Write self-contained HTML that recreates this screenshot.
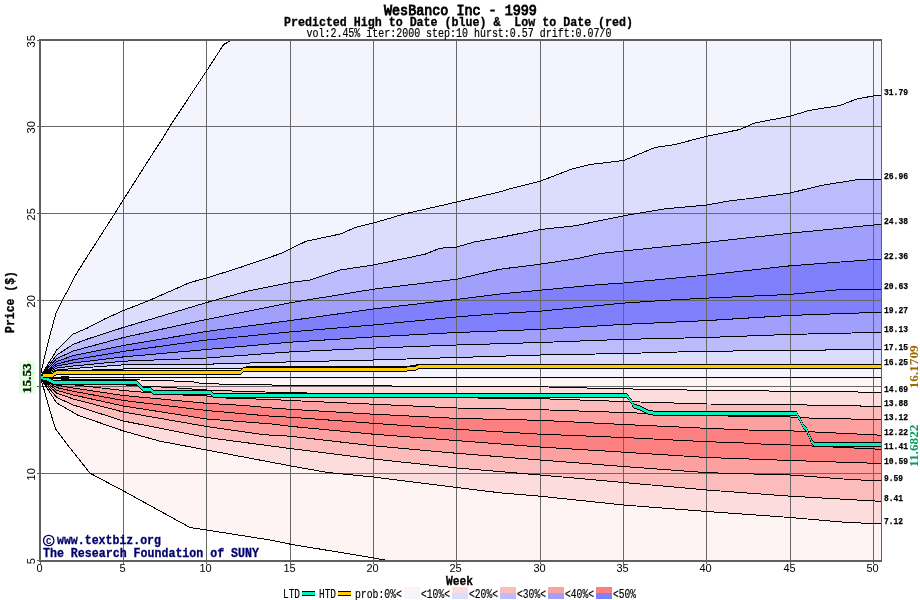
<!DOCTYPE html>
<html><head><meta charset="utf-8"><title>WesBanco Inc - 1999</title>
<style>html,body{margin:0;padding:0;background:#fff}svg{display:block;will-change:transform}</style>
</head><body>
<svg width="920" height="600" viewBox="0 0 920 600">
<rect width="920" height="600" fill="#fff"/>
<defs><clipPath id="cp"><rect x="40" y="40" width="841" height="521"/></clipPath></defs>
<g clip-path="url(#cp)" shape-rendering="crispEdges">
<polygon points="40.0,377.3 45.0,355.0 50.0,335.0 56.2,312.5 63.8,297.5 68.0,290.0 75.0,276.0 85.0,260.0 115.0,213.2 123.2,200.0 155.0,150.0 161.8,140.0 170.0,126.0 206.5,71.0 223.7,44.5 232.0,40.0 881.5,40.0 881.5,377.3 40.0,377.3" fill="#f4f4ff"/>
<polygon points="40.0,377.3 56.7,350.0 73.3,334.0 87.5,328.0 105.0,318.8 123.4,310.5 147.5,301.2 190.0,282.5 206.7,278.0 240.0,267.5 280.0,253.8 290.1,249.0 306.2,241.2 341.2,233.8 355.0,227.5 373.5,223.0 405.0,213.8 456.8,202.0 500.0,191.8 510.0,188.8 540.2,181.2 572.5,168.8 590.0,164.5 623.6,160.5 655.0,147.5 675.0,144.5 707.0,136.2 740.0,129.5 753.8,123.2 790.3,116.2 808.8,110.5 840.0,105.5 856.2,99.2 873.7,95.8 881.5,95.3 881.5,377.3 40.0,377.3" fill="#dcdcfc"/>
<polygon points="40.0,377.3 56.7,355.0 73.3,344.4 87.5,339.0 123.4,327.4 155.0,318.0 206.7,302.5 247.5,291.2 290.1,282.5 310.0,280.0 340.0,270.0 373.5,265.0 425.0,254.2 440.0,248.2 456.8,247.0 475.0,241.8 500.0,237.5 540.2,229.5 575.0,225.8 623.6,215.8 665.0,208.8 707.0,205.0 730.0,200.8 752.5,198.2 790.3,193.0 821.0,185.5 855.0,180.0 873.7,179.6 881.5,179.2 881.5,377.3 40.0,377.3" fill="#bcbcfc"/>
<polygon points="40.0,377.3 56.7,358.5 73.3,351.0 123.4,337.5 206.7,319.4 290.1,302.8 373.5,289.2 456.8,279.2 500.0,269.2 540.2,264.2 577.5,258.5 600.0,253.5 623.6,251.0 707.0,242.3 790.3,233.2 873.7,225.0 881.5,224.0 881.5,377.3 40.0,377.3" fill="#a0a0fc"/>
<polygon points="40.0,377.3 56.7,361.5 73.3,355.6 123.4,345.5 206.7,331.4 290.1,320.6 373.5,309.0 456.8,299.4 500.0,294.0 540.2,290.2 600.0,284.5 623.6,283.0 707.0,275.0 790.3,265.8 873.7,259.5 881.5,259.1 881.5,377.3 40.0,377.3" fill="#8080fc"/>
<polygon points="40.0,377.3 56.7,364.0 73.3,359.8 123.4,351.4 206.7,340.0 290.1,331.9 373.5,325.0 456.8,316.9 500.0,313.5 540.2,311.2 623.6,303.1 665.0,300.3 707.0,298.1 790.3,294.4 840.0,289.6 873.7,289.4 881.5,289.2 881.5,377.3 40.0,377.3" fill="#8080fc"/>
<polygon points="40.0,377.3 56.7,366.0 73.3,363.0 123.4,356.9 206.7,349.5 290.1,342.2 373.5,336.9 456.8,332.5 540.2,329.4 623.6,324.4 707.0,320.6 790.3,315.4 873.7,312.5 881.5,312.3 881.5,377.3 40.0,377.3" fill="#a0a0fc"/>
<polygon points="40.0,377.3 56.7,368.0 73.3,366.0 123.4,361.2 206.7,358.0 290.1,351.9 373.5,348.1 456.8,345.0 540.2,342.5 623.6,339.4 707.0,337.5 790.3,334.4 873.7,332.5 881.5,332.3 881.5,377.3 40.0,377.3" fill="#bcbcfc"/>
<polygon points="40.0,377.3 56.7,370.0 73.3,368.5 123.4,364.8 206.7,364.2 290.1,361.9 373.5,360.0 456.8,357.5 540.2,355.0 623.6,353.5 707.0,351.2 790.3,350.6 873.7,349.2 881.5,349.0 881.5,377.3 40.0,377.3" fill="#dcdcfc"/>
<polygon points="40.0,377.3 56.7,372.5 73.3,370.6 123.4,369.0 206.7,368.8 243.0,368.5 246.0,367.0 373.5,366.8 405.0,366.8 419.0,364.5 881.5,364.5 881.5,377.3 40.0,377.3" fill="#f4f4ff"/>
<polygon points="40.0,377.3 43.8,388.8 51.2,415.0 55.6,428.8 67.5,444.8 90.0,473.2 123.2,490.8 190.0,527.5 206.8,530.0 270.0,540.0 290.5,544.2 373.8,558.0 387.5,560.5 881.5,560.5 881.5,377.3 40.0,377.3" fill="#fff4f4"/>
<polygon points="40.0,377.3 56.7,403.0 73.3,412.5 77.5,415.0 123.4,431.0 160.0,441.2 206.7,450.0 290.1,465.8 327.5,472.5 373.5,477.0 456.8,487.5 500.0,492.8 540.2,496.2 623.6,505.0 707.0,511.5 790.3,517.5 847.5,522.5 881.5,523.8 881.5,377.3 40.0,377.3" fill="#fcdcdc"/>
<polygon points="40.0,377.3 56.7,397.5 73.3,405.0 123.4,421.0 206.7,437.5 290.1,448.5 373.5,459.0 456.8,468.0 540.2,475.0 623.6,482.5 707.0,490.0 790.3,496.2 881.5,501.4 881.5,377.3 40.0,377.3" fill="#fcbcbc"/>
<polygon points="40.0,377.3 56.7,393.2 73.3,399.0 123.4,412.0 206.7,426.5 265.0,434.8 290.1,436.2 373.5,445.8 456.8,453.3 540.2,460.0 623.6,466.5 707.0,472.7 790.3,475.0 850.0,479.5 881.5,480.9 881.5,377.3 40.0,377.3" fill="#fca0a0"/>
<polygon points="40.0,377.3 56.7,390.3 73.3,395.0 123.4,406.0 206.7,419.0 272.0,424.0 290.1,426.3 373.5,434.2 456.8,440.6 540.2,447.0 623.6,452.2 707.0,457.5 790.3,460.5 881.5,463.5 881.5,377.3 40.0,377.3" fill="#fc8080"/>
<polygon points="40.0,377.3 56.7,387.6 73.3,391.3 123.4,400.5 206.7,410.5 272.0,416.3 290.1,417.2 373.5,423.3 456.8,429.3 540.2,434.2 623.6,437.5 707.0,441.7 740.0,442.8 765.0,444.2 790.3,445.0 881.5,449.3 881.5,377.3 40.0,377.3" fill="#fc8080"/>
<polygon points="40.0,377.3 56.7,385.2 73.3,388.0 123.4,395.5 206.7,403.3 244.0,405.5 272.0,408.0 290.1,409.3 373.5,414.2 456.8,418.4 540.2,420.3 623.6,424.5 707.0,428.3 748.0,430.0 790.3,430.8 815.0,432.0 881.5,435.2 881.5,377.3 40.0,377.3" fill="#fca0a0"/>
<polygon points="40.0,377.3 56.7,382.9 73.3,384.8 123.4,390.5 170.0,394.5 206.7,396.0 228.0,398.2 272.0,399.5 290.1,400.5 373.5,404.2 456.8,408.0 540.2,409.7 623.6,412.5 707.0,415.7 748.0,416.3 790.3,417.0 815.0,418.3 881.5,419.6 881.5,377.3 40.0,377.3" fill="#fcbcbc"/>
<polygon points="40.0,377.3 56.7,381.2 73.3,382.5 123.4,384.8 138.0,386.0 165.0,387.2 206.7,390.0 213.0,390.5 232.0,391.0 265.0,392.0 290.1,392.5 373.5,395.0 456.8,396.5 481.7,398.3 540.2,398.7 565.0,399.5 623.6,401.5 707.0,404.0 765.0,404.2 790.3,404.7 881.5,406.4 881.5,377.3 40.0,377.3" fill="#fcdcdc"/>
<polygon points="40.0,377.3 56.7,378.9 73.3,379.3 123.4,379.5 180.0,381.2 194.0,382.0 202.0,383.5 206.7,383.8 265.0,384.8 290.1,385.5 373.5,385.8 456.8,386.7 540.2,386.9 548.0,387.0 598.0,388.3 623.6,388.7 653.0,389.7 707.0,390.2 731.7,390.5 790.3,391.3 831.7,391.7 881.5,392.3 881.5,377.3 40.0,377.3" fill="#fff4f4"/>
<rect x="123" y="40" width="1" height="521" fill="#686868"/>
<rect x="206" y="40" width="1" height="521" fill="#686868"/>
<rect x="290" y="40" width="1" height="521" fill="#686868"/>
<rect x="373" y="40" width="1" height="521" fill="#686868"/>
<rect x="456" y="40" width="1" height="521" fill="#686868"/>
<rect x="540" y="40" width="1" height="521" fill="#686868"/>
<rect x="623" y="40" width="1" height="521" fill="#686868"/>
<rect x="706" y="40" width="1" height="521" fill="#686868"/>
<rect x="790" y="40" width="1" height="521" fill="#686868"/>
<rect x="873" y="40" width="1" height="521" fill="#686868"/>
<rect x="40" y="126" width="841" height="1" fill="#686868"/>
<rect x="40" y="213" width="841" height="1" fill="#686868"/>
<rect x="40" y="300" width="841" height="1" fill="#686868"/>
<rect x="40" y="386" width="841" height="1" fill="#686868"/>
<rect x="40" y="473" width="841" height="1" fill="#686868"/>
<polyline points="40.0,377.3 45.0,355.0 50.0,335.0 56.2,312.5 63.8,297.5 68.0,290.0 75.0,276.0 85.0,260.0 115.0,213.2 123.2,200.0 155.0,150.0 161.8,140.0 170.0,126.0 206.5,71.0 223.7,44.5 232.0,40.0 881.5,40.0" fill="none" stroke="#000" stroke-width="1"/>
<polyline points="40.0,377.3 56.7,350.0 73.3,334.0 87.5,328.0 105.0,318.8 123.4,310.5 147.5,301.2 190.0,282.5 206.7,278.0 240.0,267.5 280.0,253.8 290.1,249.0 306.2,241.2 341.2,233.8 355.0,227.5 373.5,223.0 405.0,213.8 456.8,202.0 500.0,191.8 510.0,188.8 540.2,181.2 572.5,168.8 590.0,164.5 623.6,160.5 655.0,147.5 675.0,144.5 707.0,136.2 740.0,129.5 753.8,123.2 790.3,116.2 808.8,110.5 840.0,105.5 856.2,99.2 873.7,95.8 881.5,95.3" fill="none" stroke="#000" stroke-width="1"/>
<polyline points="40.0,377.3 56.7,355.0 73.3,344.4 87.5,339.0 123.4,327.4 155.0,318.0 206.7,302.5 247.5,291.2 290.1,282.5 310.0,280.0 340.0,270.0 373.5,265.0 425.0,254.2 440.0,248.2 456.8,247.0 475.0,241.8 500.0,237.5 540.2,229.5 575.0,225.8 623.6,215.8 665.0,208.8 707.0,205.0 730.0,200.8 752.5,198.2 790.3,193.0 821.0,185.5 855.0,180.0 873.7,179.6 881.5,179.2" fill="none" stroke="#000" stroke-width="1"/>
<polyline points="40.0,377.3 56.7,358.5 73.3,351.0 123.4,337.5 206.7,319.4 290.1,302.8 373.5,289.2 456.8,279.2 500.0,269.2 540.2,264.2 577.5,258.5 600.0,253.5 623.6,251.0 707.0,242.3 790.3,233.2 873.7,225.0 881.5,224.0" fill="none" stroke="#000" stroke-width="1"/>
<polyline points="40.0,377.3 56.7,361.5 73.3,355.6 123.4,345.5 206.7,331.4 290.1,320.6 373.5,309.0 456.8,299.4 500.0,294.0 540.2,290.2 600.0,284.5 623.6,283.0 707.0,275.0 790.3,265.8 873.7,259.5 881.5,259.1" fill="none" stroke="#000" stroke-width="1"/>
<polyline points="40.0,377.3 56.7,364.0 73.3,359.8 123.4,351.4 206.7,340.0 290.1,331.9 373.5,325.0 456.8,316.9 500.0,313.5 540.2,311.2 623.6,303.1 665.0,300.3 707.0,298.1 790.3,294.4 840.0,289.6 873.7,289.4 881.5,289.2" fill="none" stroke="#000" stroke-width="1"/>
<polyline points="40.0,377.3 56.7,366.0 73.3,363.0 123.4,356.9 206.7,349.5 290.1,342.2 373.5,336.9 456.8,332.5 540.2,329.4 623.6,324.4 707.0,320.6 790.3,315.4 873.7,312.5 881.5,312.3" fill="none" stroke="#000" stroke-width="1"/>
<polyline points="40.0,377.3 56.7,368.0 73.3,366.0 123.4,361.2 206.7,358.0 290.1,351.9 373.5,348.1 456.8,345.0 540.2,342.5 623.6,339.4 707.0,337.5 790.3,334.4 873.7,332.5 881.5,332.3" fill="none" stroke="#000" stroke-width="1"/>
<polyline points="40.0,377.3 56.7,370.0 73.3,368.5 123.4,364.8 206.7,364.2 290.1,361.9 373.5,360.0 456.8,357.5 540.2,355.0 623.6,353.5 707.0,351.2 790.3,350.6 873.7,349.2 881.5,349.0" fill="none" stroke="#000" stroke-width="1"/>
<polyline points="40.0,377.3 56.7,372.5 73.3,370.6 123.4,369.0 206.7,368.8 243.0,368.5 246.0,367.0 373.5,366.8 405.0,366.8 419.0,364.5 881.5,364.5" fill="none" stroke="#000" stroke-width="1"/>
<polyline points="40.0,377.3 43.8,388.8 51.2,415.0 55.6,428.8 67.5,444.8 90.0,473.2 123.2,490.8 190.0,527.5 206.8,530.0 270.0,540.0 290.5,544.2 373.8,558.0 387.5,560.5 881.5,560.5" fill="none" stroke="#000" stroke-width="1"/>
<polyline points="40.0,377.3 56.7,403.0 73.3,412.5 77.5,415.0 123.4,431.0 160.0,441.2 206.7,450.0 290.1,465.8 327.5,472.5 373.5,477.0 456.8,487.5 500.0,492.8 540.2,496.2 623.6,505.0 707.0,511.5 790.3,517.5 847.5,522.5 881.5,523.8" fill="none" stroke="#000" stroke-width="1"/>
<polyline points="40.0,377.3 56.7,397.5 73.3,405.0 123.4,421.0 206.7,437.5 290.1,448.5 373.5,459.0 456.8,468.0 540.2,475.0 623.6,482.5 707.0,490.0 790.3,496.2 881.5,501.4" fill="none" stroke="#000" stroke-width="1"/>
<polyline points="40.0,377.3 56.7,393.2 73.3,399.0 123.4,412.0 206.7,426.5 265.0,434.8 290.1,436.2 373.5,445.8 456.8,453.3 540.2,460.0 623.6,466.5 707.0,472.7 790.3,475.0 850.0,479.5 881.5,480.9" fill="none" stroke="#000" stroke-width="1"/>
<polyline points="40.0,377.3 56.7,390.3 73.3,395.0 123.4,406.0 206.7,419.0 272.0,424.0 290.1,426.3 373.5,434.2 456.8,440.6 540.2,447.0 623.6,452.2 707.0,457.5 790.3,460.5 881.5,463.5" fill="none" stroke="#000" stroke-width="1"/>
<polyline points="40.0,377.3 56.7,387.6 73.3,391.3 123.4,400.5 206.7,410.5 272.0,416.3 290.1,417.2 373.5,423.3 456.8,429.3 540.2,434.2 623.6,437.5 707.0,441.7 740.0,442.8 765.0,444.2 790.3,445.0 881.5,449.3" fill="none" stroke="#000" stroke-width="1"/>
<polyline points="40.0,377.3 56.7,385.2 73.3,388.0 123.4,395.5 206.7,403.3 244.0,405.5 272.0,408.0 290.1,409.3 373.5,414.2 456.8,418.4 540.2,420.3 623.6,424.5 707.0,428.3 748.0,430.0 790.3,430.8 815.0,432.0 881.5,435.2" fill="none" stroke="#000" stroke-width="1"/>
<polyline points="40.0,377.3 56.7,382.9 73.3,384.8 123.4,390.5 170.0,394.5 206.7,396.0 228.0,398.2 272.0,399.5 290.1,400.5 373.5,404.2 456.8,408.0 540.2,409.7 623.6,412.5 707.0,415.7 748.0,416.3 790.3,417.0 815.0,418.3 881.5,419.6" fill="none" stroke="#000" stroke-width="1"/>
<polyline points="40.0,377.3 56.7,381.2 73.3,382.5 123.4,384.8 138.0,386.0 165.0,387.2 206.7,390.0 213.0,390.5 232.0,391.0 265.0,392.0 290.1,392.5 373.5,395.0 456.8,396.5 481.7,398.3 540.2,398.7 565.0,399.5 623.6,401.5 707.0,404.0 765.0,404.2 790.3,404.7 881.5,406.4" fill="none" stroke="#000" stroke-width="1"/>
<polyline points="40.0,377.3 56.7,378.9 73.3,379.3 123.4,379.5 180.0,381.2 194.0,382.0 202.0,383.5 206.7,383.8 265.0,384.8 290.1,385.5 373.5,385.8 456.8,386.7 540.2,386.9 548.0,387.0 598.0,388.3 623.6,388.7 653.0,389.7 707.0,390.2 731.7,390.5 790.3,391.3 831.7,391.7 881.5,392.3" fill="none" stroke="#000" stroke-width="1"/>
<rect x="40" y="377" width="842" height="1" fill="#000"/>
</g>
<g clip-path="url(#cp)" shape-rendering="crispEdges">
<polygon points="40.0,375.0 46.0,376.0 53.8,380.0 137.0,380.0 143.0,387.0 151.0,387.0 153.0,390.0 211.0,390.0 213.0,393.0 626.5,393.0 631.7,399.2 633.3,403.3 641.7,406.2 646.7,409.2 655.0,411.0 796.5,411.0 803.3,423.3 806.7,427.5 811.7,439.2 814.0,442.0 881.5,442.0 881.5,447.0 814.0,447.0 811.7,444.2 806.7,432.5 803.3,428.3 796.5,416.0 655.0,416.0 646.7,414.2 641.7,411.2 633.3,408.3 631.7,404.2 626.5,398.0 213.0,398.0 211.0,395.0 153.0,395.0 151.0,392.0 143.0,392.0 137.0,385.0 53.8,385.0 46.0,381.0 40.0,380.0" fill="#000"/>
<polyline points="40.0,377.5 46.0,378.5 53.8,382.5 137.0,382.5 143.0,389.5 151.0,389.5 153.0,392.5 211.0,392.5 213.0,395.5 626.5,395.5 631.7,401.7 633.3,405.8 641.7,408.7 646.7,411.7 655.0,413.5 796.5,413.5 803.3,425.8 806.7,430.0 811.7,441.7 814.0,444.5 881.5,444.5" fill="none" stroke="#000" stroke-width="2.2"/>
<polygon points="40.0,376.0 46.0,377.0 53.8,381.0 137.0,381.0 143.0,388.0 151.0,388.0 153.0,391.0 211.0,391.0 213.0,394.0 626.5,394.0 631.7,400.2 633.3,404.3 641.7,407.2 646.7,410.2 655.0,412.0 796.5,412.0 803.3,424.3 806.7,428.5 811.7,440.2 814.0,443.0 881.5,443.0 881.5,446.0 814.0,446.0 811.7,443.2 806.7,431.5 803.3,427.3 796.5,415.0 655.0,415.0 646.7,413.2 641.7,410.2 633.3,407.3 631.7,403.2 626.5,397.0 213.0,397.0 211.0,394.0 153.0,394.0 151.0,391.0 143.0,391.0 137.0,384.0 53.8,384.0 46.0,380.0 40.0,379.0" fill="#00f0c0"/>
<polygon points="42.5,373.0 52.5,373.0 56.2,370.0 240.0,370.0 243.8,367.0 405.0,367.0 408.0,366.0 415.0,366.0 418.8,364.0 881.5,364.0 881.5,369.0 418.8,369.0 415.0,371.0 408.0,371.0 405.0,372.0 243.8,372.0 240.0,375.0 56.2,375.0 52.5,378.0 42.5,378.0" fill="#000"/>
<polyline points="42.5,375.5 52.5,375.5 56.2,372.5 240.0,372.5 243.8,369.5 405.0,369.5 408.0,368.5 415.0,368.5 418.8,366.5 881.5,366.5" fill="none" stroke="#000" stroke-width="2.2"/>
<polygon points="42.5,374.0 52.5,374.0 56.2,371.0 240.0,371.0 243.8,368.0 405.0,368.0 408.0,367.0 415.0,367.0 418.8,365.0 881.5,365.0 881.5,368.0 418.8,368.0 415.0,370.0 408.0,370.0 405.0,371.0 243.8,371.0 240.0,374.0 56.2,374.0 52.5,377.0 42.5,377.0" fill="#ffcc00"/>
<rect x="61" y="376" width="8" height="3" fill="#000"/>
</g>
<g shape-rendering="crispEdges" fill="#606060">
<rect x="39" y="39" width="843" height="2"/>
<rect x="39" y="560" width="843" height="2"/>
<rect x="39" y="39" width="2" height="523"/>
<rect x="881" y="39" width="1" height="523"/>
<rect x="37" y="40" width="2" height="1"/>
<rect x="37" y="126" width="2" height="1"/>
<rect x="37" y="213" width="2" height="1"/>
<rect x="37" y="300" width="2" height="1"/>
<rect x="37" y="386" width="2" height="1"/>
<rect x="37" y="473" width="2" height="1"/>
<rect x="37" y="560" width="2" height="1"/>
<rect x="40" y="562" width="1" height="2"/>
<rect x="123" y="562" width="1" height="2"/>
<rect x="206" y="562" width="1" height="2"/>
<rect x="290" y="562" width="1" height="2"/>
<rect x="373" y="562" width="1" height="2"/>
<rect x="456" y="562" width="1" height="2"/>
<rect x="540" y="562" width="1" height="2"/>
<rect x="623" y="562" width="1" height="2"/>
<rect x="706" y="562" width="1" height="2"/>
<rect x="790" y="562" width="1" height="2"/>
<rect x="873" y="562" width="1" height="2"/>
</g>
<text x="384" y="14.7" font-family="Liberation Mono, monospace" font-size="14" fill="#000" text-anchor="start" textLength="152.9" lengthAdjust="spacingAndGlyphs" xml:space="preserve" stroke="#000" stroke-width="0.9">WesBanco Inc - 1999</text>
<text x="284" y="25.5" font-family="Liberation Mono, monospace" font-size="12.5" font-weight="bold" stroke="#000" stroke-width="0.3" fill="#000" text-anchor="start" textLength="349" lengthAdjust="spacingAndGlyphs" xml:space="preserve">Predicted High to Date (blue) &amp;  Low to Date (red)</text>
<text x="306.5" y="36.8" font-family="Liberation Mono, monospace" font-size="12.5" stroke="#000" stroke-width="0.2" fill="#000" text-anchor="start" textLength="305" lengthAdjust="spacingAndGlyphs" xml:space="preserve">vol:2.45% iter:2000 step:10 hurst:0.57 drift:0.07/0</text>
<text x="39.5" y="572" font-family="Liberation Sans, sans-serif" font-size="11" fill="#000" text-anchor="middle">0</text>
<text x="122.5" y="572" font-family="Liberation Sans, sans-serif" font-size="11" fill="#000" text-anchor="middle">5</text>
<text x="205.5" y="572" font-family="Liberation Sans, sans-serif" font-size="11" fill="#000" text-anchor="middle">10</text>
<text x="289.5" y="572" font-family="Liberation Sans, sans-serif" font-size="11" fill="#000" text-anchor="middle">15</text>
<text x="372.5" y="572" font-family="Liberation Sans, sans-serif" font-size="11" fill="#000" text-anchor="middle">20</text>
<text x="455.5" y="572" font-family="Liberation Sans, sans-serif" font-size="11" fill="#000" text-anchor="middle">25</text>
<text x="539.5" y="572" font-family="Liberation Sans, sans-serif" font-size="11" fill="#000" text-anchor="middle">30</text>
<text x="622.5" y="572" font-family="Liberation Sans, sans-serif" font-size="11" fill="#000" text-anchor="middle">35</text>
<text x="705.5" y="572" font-family="Liberation Sans, sans-serif" font-size="11" fill="#000" text-anchor="middle">40</text>
<text x="789.5" y="572" font-family="Liberation Sans, sans-serif" font-size="11" fill="#000" text-anchor="middle">45</text>
<text x="872.5" y="572" font-family="Liberation Sans, sans-serif" font-size="11" fill="#000" text-anchor="middle">50</text>
<text transform="translate(35.2,41.3) rotate(-90)" font-family="Liberation Sans, sans-serif" font-size="11" fill="#000" text-anchor="middle">35</text>
<text transform="translate(35.2,127.3) rotate(-90)" font-family="Liberation Sans, sans-serif" font-size="11" fill="#000" text-anchor="middle">30</text>
<text transform="translate(35.2,214.3) rotate(-90)" font-family="Liberation Sans, sans-serif" font-size="11" fill="#000" text-anchor="middle">25</text>
<text transform="translate(35.2,301.3) rotate(-90)" font-family="Liberation Sans, sans-serif" font-size="11" fill="#000" text-anchor="middle">20</text>
<text transform="translate(35.2,474.3) rotate(-90)" font-family="Liberation Sans, sans-serif" font-size="11" fill="#000" text-anchor="middle">10</text>
<text transform="translate(35.2,561.3) rotate(-90)" font-family="Liberation Sans, sans-serif" font-size="11" fill="#000" text-anchor="middle">5</text>
<text x="446" y="585" font-family="Liberation Mono, monospace" font-size="12.5" font-weight="bold" stroke="#000" stroke-width="0.3" fill="#000" text-anchor="start" textLength="27" lengthAdjust="spacingAndGlyphs" xml:space="preserve">Week</text>
<g transform="translate(13.5,333) rotate(-90)"><text x="0" y="0" font-family="Liberation Mono, monospace" font-size="12.5" font-weight="bold" stroke="#000" stroke-width="0.3" fill="#000" text-anchor="start" textLength="62" lengthAdjust="spacingAndGlyphs" xml:space="preserve">Price ($)</text></g>
<rect x="19" y="361" width="16" height="33" fill="#e4ffe4"/>
<text transform="translate(31,393.2) rotate(-90)" font-family="Liberation Serif, serif" font-size="13.3" font-weight="bold" fill="#001c00" stroke="#001c00" stroke-width="0.3">15.53</text>
<text transform="translate(918,388.5) rotate(-90)" font-family="Liberation Serif, serif" font-size="13.3" font-weight="bold" fill="#a06c00">16.1709</text>
<text transform="translate(918,467) rotate(-90)" font-family="Liberation Serif, serif" font-size="13.3" font-weight="bold" fill="#00a060">11.6822</text>
<text x="884" y="94.7" font-family="Liberation Mono, monospace" font-size="9" font-weight="bold" fill="#000" text-anchor="start" textLength="24" lengthAdjust="spacingAndGlyphs" xml:space="preserve" stroke="#000" stroke-width="0.25">31.79</text>
<text x="884" y="178.7" font-family="Liberation Mono, monospace" font-size="9" font-weight="bold" fill="#000" text-anchor="start" textLength="24" lengthAdjust="spacingAndGlyphs" xml:space="preserve" stroke="#000" stroke-width="0.25">26.96</text>
<text x="884" y="223.7" font-family="Liberation Mono, monospace" font-size="9" font-weight="bold" fill="#000" text-anchor="start" textLength="24" lengthAdjust="spacingAndGlyphs" xml:space="preserve" stroke="#000" stroke-width="0.25">24.38</text>
<text x="884" y="258.7" font-family="Liberation Mono, monospace" font-size="9" font-weight="bold" fill="#000" text-anchor="start" textLength="24" lengthAdjust="spacingAndGlyphs" xml:space="preserve" stroke="#000" stroke-width="0.25">22.36</text>
<text x="884" y="288.7" font-family="Liberation Mono, monospace" font-size="9" font-weight="bold" fill="#000" text-anchor="start" textLength="24" lengthAdjust="spacingAndGlyphs" xml:space="preserve" stroke="#000" stroke-width="0.25">20.63</text>
<text x="884" y="312.7" font-family="Liberation Mono, monospace" font-size="9" font-weight="bold" fill="#000" text-anchor="start" textLength="24" lengthAdjust="spacingAndGlyphs" xml:space="preserve" stroke="#000" stroke-width="0.25">19.27</text>
<text x="884" y="331.7" font-family="Liberation Mono, monospace" font-size="9" font-weight="bold" fill="#000" text-anchor="start" textLength="24" lengthAdjust="spacingAndGlyphs" xml:space="preserve" stroke="#000" stroke-width="0.25">18.13</text>
<text x="884" y="349.7" font-family="Liberation Mono, monospace" font-size="9" font-weight="bold" fill="#000" text-anchor="start" textLength="24" lengthAdjust="spacingAndGlyphs" xml:space="preserve" stroke="#000" stroke-width="0.25">17.15</text>
<text x="884" y="364.7" font-family="Liberation Mono, monospace" font-size="9" font-weight="bold" fill="#000" text-anchor="start" textLength="24" lengthAdjust="spacingAndGlyphs" xml:space="preserve" stroke="#000" stroke-width="0.25">16.25</text>
<text x="884" y="391.7" font-family="Liberation Mono, monospace" font-size="9" font-weight="bold" fill="#000" text-anchor="start" textLength="24" lengthAdjust="spacingAndGlyphs" xml:space="preserve" stroke="#000" stroke-width="0.25">14.69</text>
<text x="884" y="405.7" font-family="Liberation Mono, monospace" font-size="9" font-weight="bold" fill="#000" text-anchor="start" textLength="24" lengthAdjust="spacingAndGlyphs" xml:space="preserve" stroke="#000" stroke-width="0.25">13.88</text>
<text x="884" y="419.7" font-family="Liberation Mono, monospace" font-size="9" font-weight="bold" fill="#000" text-anchor="start" textLength="24" lengthAdjust="spacingAndGlyphs" xml:space="preserve" stroke="#000" stroke-width="0.25">13.12</text>
<text x="884" y="434.7" font-family="Liberation Mono, monospace" font-size="9" font-weight="bold" fill="#000" text-anchor="start" textLength="24" lengthAdjust="spacingAndGlyphs" xml:space="preserve" stroke="#000" stroke-width="0.25">12.22</text>
<text x="884" y="448.7" font-family="Liberation Mono, monospace" font-size="9" font-weight="bold" fill="#000" text-anchor="start" textLength="24" lengthAdjust="spacingAndGlyphs" xml:space="preserve" stroke="#000" stroke-width="0.25">11.41</text>
<text x="884" y="463.7" font-family="Liberation Mono, monospace" font-size="9" font-weight="bold" fill="#000" text-anchor="start" textLength="24" lengthAdjust="spacingAndGlyphs" xml:space="preserve" stroke="#000" stroke-width="0.25">10.59</text>
<text x="884" y="480.7" font-family="Liberation Mono, monospace" font-size="9" font-weight="bold" fill="#000" text-anchor="start" textLength="19" lengthAdjust="spacingAndGlyphs" xml:space="preserve" stroke="#000" stroke-width="0.25">9.59</text>
<text x="884" y="500.7" font-family="Liberation Mono, monospace" font-size="9" font-weight="bold" fill="#000" text-anchor="start" textLength="19" lengthAdjust="spacingAndGlyphs" xml:space="preserve" stroke="#000" stroke-width="0.25">8.41</text>
<text x="884" y="523.7" font-family="Liberation Mono, monospace" font-size="9" font-weight="bold" fill="#000" text-anchor="start" textLength="19" lengthAdjust="spacingAndGlyphs" xml:space="preserve" stroke="#000" stroke-width="0.25">7.12</text>
<circle cx="48.7" cy="540.5" r="5.2" fill="none" stroke="#00006c" stroke-width="1.3"/>
<text x="48.7" y="543.6" font-family="Liberation Mono, monospace" font-size="9" font-weight="bold" fill="#00006c" text-anchor="middle">C</text>
<text x="57" y="544.3" font-family="Liberation Mono, monospace" font-size="12.5" font-weight="bold" stroke="#00006c" stroke-width="0.3" fill="#00006c" text-anchor="start" textLength="104" lengthAdjust="spacingAndGlyphs" xml:space="preserve">www.textbiz.org</text>
<text x="43" y="556.7" font-family="Liberation Mono, monospace" font-size="12.5" font-weight="bold" stroke="#00006c" stroke-width="0.3" fill="#00006c" text-anchor="start" textLength="216" lengthAdjust="spacingAndGlyphs" xml:space="preserve">The Research Foundation of SUNY</text>
<text x="283" y="598" font-family="Liberation Mono, monospace" font-size="13" stroke="#000" stroke-width="0.2" fill="#000" text-anchor="start" textLength="17" lengthAdjust="spacingAndGlyphs" xml:space="preserve">LTD</text>
<rect x="302" y="591" width="13" height="5" fill="#000"/><rect x="302" y="592" width="13" height="3" fill="#00f0c0"/>
<text x="319" y="598" font-family="Liberation Mono, monospace" font-size="13" stroke="#000" stroke-width="0.2" fill="#000" text-anchor="start" textLength="17" lengthAdjust="spacingAndGlyphs" xml:space="preserve">HTD</text>
<rect x="338" y="591" width="13" height="5" fill="#000"/><rect x="338" y="592" width="13" height="3" fill="#ffcc00"/>
<text x="355" y="598" font-family="Liberation Mono, monospace" font-size="13" stroke="#000" stroke-width="0.2" fill="#000" text-anchor="start" textLength="47" lengthAdjust="spacingAndGlyphs" xml:space="preserve">prob:0%&lt;</text>
<rect x="404" y="587" width="16" height="6" fill="#fff4f4"/><rect x="404" y="593" width="16" height="6" fill="#f4f4ff"/>
<text x="421" y="598" font-family="Liberation Mono, monospace" font-size="13" stroke="#000" stroke-width="0.2" fill="#000" text-anchor="start" textLength="29" lengthAdjust="spacingAndGlyphs" xml:space="preserve">&lt;10%&lt;</text>
<rect x="452" y="587" width="16" height="6" fill="#fcdcdc"/><rect x="452" y="593" width="16" height="6" fill="#dcdcfc"/>
<text x="469" y="598" font-family="Liberation Mono, monospace" font-size="13" stroke="#000" stroke-width="0.2" fill="#000" text-anchor="start" textLength="29" lengthAdjust="spacingAndGlyphs" xml:space="preserve">&lt;20%&lt;</text>
<rect x="500" y="587" width="16" height="6" fill="#fcbcbc"/><rect x="500" y="593" width="16" height="6" fill="#bcbcfc"/>
<text x="517" y="598" font-family="Liberation Mono, monospace" font-size="13" stroke="#000" stroke-width="0.2" fill="#000" text-anchor="start" textLength="29" lengthAdjust="spacingAndGlyphs" xml:space="preserve">&lt;30%&lt;</text>
<rect x="548" y="587" width="16" height="6" fill="#fca0a0"/><rect x="548" y="593" width="16" height="6" fill="#a0a0fc"/>
<text x="565" y="598" font-family="Liberation Mono, monospace" font-size="13" stroke="#000" stroke-width="0.2" fill="#000" text-anchor="start" textLength="29" lengthAdjust="spacingAndGlyphs" xml:space="preserve">&lt;40%&lt;</text>
<rect x="596" y="587" width="16" height="6" fill="#fc8080"/><rect x="596" y="593" width="16" height="6" fill="#8080fc"/>
<text x="613" y="598" font-family="Liberation Mono, monospace" font-size="13" stroke="#000" stroke-width="0.2" fill="#000" text-anchor="start" textLength="23" lengthAdjust="spacingAndGlyphs" xml:space="preserve">&lt;50%</text>
</svg>
</body></html>
